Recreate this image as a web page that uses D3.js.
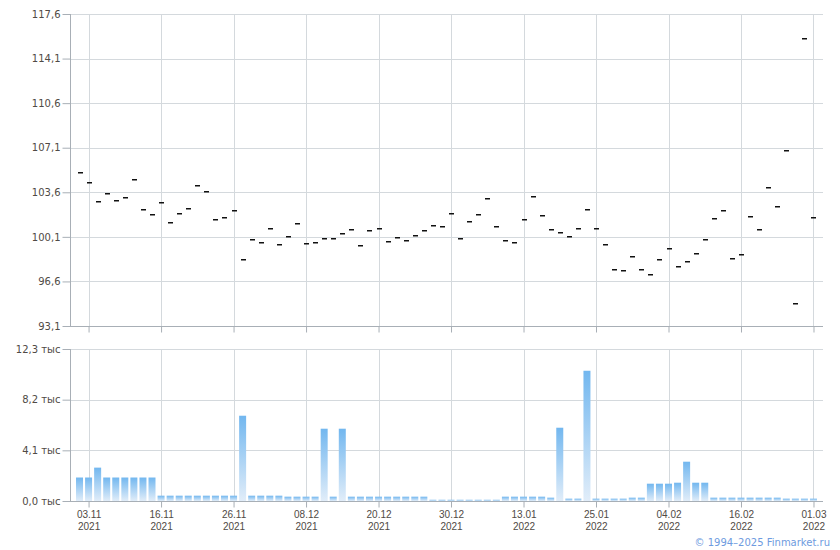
<!DOCTYPE html>
<html>
<head>
<meta charset="utf-8">
<script src="https://cdn.jsdelivr.net/npm/d3@7"></script>
<style>
  html, body { margin: 0; padding: 0; background: #fff; }
  svg { display: block; font-family: "DejaVu Sans", Verdana, sans-serif; }
</style>
</head>
<body>
<svg id="chart" width="840" height="550"></svg>
<script>
const dates = [
  "02.11.2021","03.11.2021","05.11.2021","08.11.2021","09.11.2021","10.11.2021","11.11.2021","12.11.2021",
  "15.11.2021","16.11.2021","17.11.2021","18.11.2021","19.11.2021","22.11.2021","23.11.2021","24.11.2021",
  "25.11.2021","26.11.2021","29.11.2021","30.11.2021","01.12.2021","02.12.2021","03.12.2021","06.12.2021",
  "07.12.2021","08.12.2021","09.12.2021","10.12.2021","13.12.2021","14.12.2021","15.12.2021","16.12.2021",
  "17.12.2021","20.12.2021","21.12.2021","22.12.2021","23.12.2021","24.12.2021","27.12.2021","28.12.2021",
  "29.12.2021","30.12.2021","03.01.2022","04.01.2022","05.01.2022","06.01.2022","10.01.2022","11.01.2022",
  "12.01.2022","13.01.2022","14.01.2022","17.01.2022","18.01.2022","19.01.2022","20.01.2022","21.01.2022",
  "24.01.2022","25.01.2022","26.01.2022","27.01.2022","28.01.2022","31.01.2022","01.02.2022","02.02.2022",
  "03.02.2022","04.02.2022","07.02.2022","08.02.2022","09.02.2022","10.02.2022","11.02.2022","14.02.2022",
  "15.02.2022","16.02.2022","17.02.2022","18.02.2022","21.02.2022","22.02.2022","24.02.2022","25.02.2022",
  "28.02.2022","01.03.2022"
];

const prices = [
  105.09,104.31,102.81,103.47,102.89,103.13,104.54,102.19,101.79,102.74,
  101.16,101.87,102.26,104.07,103.60,101.40,101.56,102.11,98.26,99.83,
  99.59,100.69,99.44,100.07,101.09,99.52,99.59,99.91,99.91,100.30,
  100.61,99.36,100.54,100.69,99.67,99.99,99.75,100.14,100.54,100.93,
  100.85,101.87,99.91,101.24,101.79,103.05,100.85,99.75,99.59,101.40,
  103.21,101.71,100.61,100.38,100.07,100.69,102.19,100.69,99.44,97.47,
  97.40,98.49,97.47,97.08,98.26,99.12,97.71,98.10,98.73,99.83,
  101.48,102.11,98.34,98.65,101.64,100.61,103.91,102.42,106.87,94.80,
  115.61,101.56
];

const volumes = [
  1900,1900,2700,1900,1900,1900,1900,1900,1900,430,
  430,430,430,430,430,430,430,430,6900,430,
  430,430,430,350,350,350,350,5850,350,5850,
  350,350,350,350,350,350,350,350,350,100,
  100,100,100,100,100,100,100,350,350,350,
  350,350,270,5930,190,190,10540,190,190,190,
  190,270,270,1400,1400,1400,1480,3180,1480,1480,
  270,270,270,270,270,270,270,270,190,190,
  190,190
];

const priceTicks = [93.1, 96.6, 100.1, 103.6, 107.1, 110.6, 114.1, 117.6];
const volumeTicks = [0, 4100, 8200, 12300];
const xTickDates = ["03.11.2021","16.11.2021","26.11.2021","08.12.2021","20.12.2021","30.12.2021",
  "13.01.2022","25.01.2022","04.02.2022","16.02.2022","01.03.2022"];
const copyright = "© 1994–2025 Finmarket.ru";

const svg = d3.select("#chart");
const L = 70, R = 823;
const top1 = 14, bot1 = 326, top2 = 349, bot2 = 501;
const gridColor = "#d4d9dd", axisColor = "#a8afb6", textColor = "#4f4a45";

const x = d3.scalePoint().domain(dates).range([L, R]).padding(1.05);
const yP = d3.scaleLinear().domain([93.1, 117.6]).range([bot1, top1]);
const yV = d3.scaleLinear().domain([0, 12300]).range([bot2, top2]);

const comma = v => v.toFixed(1).replace(".", ",");

const defs = svg.append("defs");
const grad = defs.append("linearGradient").attr("id", "barGrad")
  .attr("x1", 0).attr("y1", 0).attr("x2", 0).attr("y2", 1);
grad.append("stop").attr("offset", "0%").attr("stop-color", "#72b7ef");
grad.append("stop").attr("offset", "100%").attr("stop-color", "#e1edf9");

function panel(y, yTop, yBot, ticks, fmt) {
  const g = svg.append("g");
  g.selectAll("line.hg").data(ticks).join("line")
    .attr("x1", L).attr("x2", R)
    .attr("y1", d => Math.round(y(d)) + 0.5).attr("y2", d => Math.round(y(d)) + 0.5)
    .attr("stroke", gridColor).attr("stroke-width", 1);
  g.selectAll("line.vg").data(xTickDates).join("line")
    .attr("x1", d => Math.round(x(d)) + 0.5).attr("x2", d => Math.round(x(d)) + 0.5)
    .attr("y1", yTop).attr("y2", yBot)
    .attr("stroke", gridColor).attr("stroke-width", 1);
  const ya = d3.axisLeft(y).tickValues(ticks).tickFormat(fmt).tickSize(8).tickSizeOuter(0);
  const yg = svg.append("g").attr("transform", `translate(${L + 0.5},0)`).call(ya);
  yg.select(".domain").attr("stroke", axisColor).attr("d", `M0,${yTop}V${yBot}`);
  yg.selectAll(".tick line").attr("stroke", axisColor);
  yg.selectAll(".tick text").attr("fill", textColor).attr("font-size", 10)
    .attr("font-family", "DejaVu Sans, Verdana, sans-serif").attr("x", -10);
  const xa = d3.axisBottom(x).tickValues(xTickDates).tickFormat(() => "").tickSize(6).tickSizeOuter(0);
  const xg = svg.append("g").attr("transform", `translate(0,${yBot + 0.5})`).call(xa);
  xg.select(".domain").attr("stroke", axisColor).attr("d", `M${L},0H${R}`);
  xg.selectAll(".tick line").attr("stroke", axisColor);
  xg.selectAll(".tick text").remove();
  return {g, xg};
}

const p1 = panel(yP, top1, bot1, priceTicks, comma);
const p2 = panel(yV, top2, bot2, volumeTicks, d => comma(d / 1000) + " тыс");

p2.xg.selectAll(".tick").each(function(d) {
  const t = d3.select(this);
  const parts = d.split(".");
  t.append("text").attr("y", 16).attr("text-anchor", "middle")
    .attr("fill", textColor).attr("font-size", 10)
    .text(parts[0] + "." + parts[1]);
  t.append("text").attr("y", 28).attr("text-anchor", "middle")
    .attr("fill", textColor).attr("font-size", 10)
    .text(parts[2]);
});

svg.append("g").selectAll("rect").data(dates).join("rect")
  .attr("x", d => x(d) - 3.5)
  .attr("width", 7)
  .attr("y", (d, i) => yV(volumes[i]))
  .attr("height", (d, i) => bot2 - yV(volumes[i]))
  .attr("fill", "url(#barGrad)");

svg.append("g").selectAll("rect").data(dates).join("rect")
  .attr("x", d => Math.round(x(d)) - 2)
  .attr("width", 5)
  .attr("y", (d, i) => Math.round(yP(prices[i])) - 1)
  .attr("height", 1.5)
  .attr("fill", "#111");

svg.append("text").attr("x", 830).attr("y", 546).attr("text-anchor", "end")
  .attr("font-size", 10).attr("fill", "#6e9be0").text(copyright);
</script>
</body>
</html>
